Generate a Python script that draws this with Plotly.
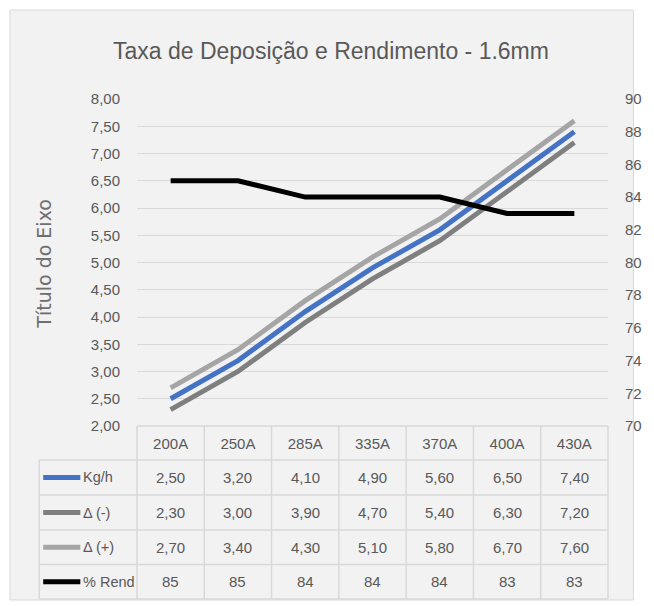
import plotly.graph_objects as go

categories = ["200A", "250A", "285A", "335A", "370A", "400A", "430A"]
kg_h = [2.50, 3.20, 4.10, 4.90, 5.60, 6.50, 7.40]
delta_minus = [2.30, 3.00, 3.90, 4.70, 5.40, 6.30, 7.20]
delta_plus = [2.70, 3.40, 4.30, 5.10, 5.80, 6.70, 7.60]
rend = [85, 85, 84, 84, 84, 83, 83]

series_names = ["Kg/h", "Δ (-)", "Δ (+)", "% Rend"]
series_colors = ["#4472C4", "#7F7F7F", "#A5A5A5", "#000000"]

W_FIG, H_FIG = 654, 606
L, R, T, B = 137, 619, 99, 426
PW, PH = R - L, B - T

def px(x):
    return (x - L) / PW

def py(y):
    return (B - y) / PH

TXT = "#595959"
GRID = "#D9D9D9"
FONT = "Liberation Sans, Arial, sans-serif"

fig = go.Figure()
for vals, i in [(kg_h, 0), (delta_minus, 1), (delta_plus, 2)]:
    fig.add_trace(go.Scatter(x=categories, y=vals, mode="lines", name=series_names[i],
                             line=dict(color=series_colors[i], width=5), showlegend=False))
fig.add_trace(go.Scatter(x=categories, y=rend, mode="lines", name=series_names[3], yaxis="y2",
                         line=dict(color=series_colors[3], width=5), showlegend=False))

shapes = []
# chart area background
shapes.append(dict(type="rect", xref="paper", yref="paper", x0=px(7), x1=px(645), y0=py(10), y1=py(600),
                   fillcolor="#F2F2F2", line=dict(color=GRID, width=1), layer="below"))

# table grid
n = len(categories)
row_y = [460, 495, 530, 564.5, 599]
top_y = 426
lw = 1.5
shapes.append(dict(type="line", xref="paper", yref="paper", x0=0, x1=1, y0=py(top_y), y1=py(top_y),
                   line=dict(color=GRID, width=lw)))
for yy in row_y:
    shapes.append(dict(type="line", xref="paper", yref="paper", x0=px(37), x1=1, y0=py(yy), y1=py(yy),
                       line=dict(color=GRID, width=lw)))
for k in range(n + 1):
    shapes.append(dict(type="line", xref="paper", yref="paper", x0=k / n, x1=k / n, y0=py(top_y), y1=py(row_y[-1]),
                       line=dict(color=GRID, width=lw)))
shapes.append(dict(type="line", xref="paper", yref="paper", x0=px(37), x1=px(37), y0=py(row_y[0]), y1=py(row_y[-1]),
                   line=dict(color=GRID, width=lw)))

annotations = []
table_rows = [kg_h, delta_minus, delta_plus, rend]
for r, vals in enumerate(table_rows):
    yc = (row_y[r] + row_y[r + 1]) / 2
    shapes.append(dict(type="line", xref="paper", yref="paper", x0=px(41), x1=px(79), y0=py(yc), y1=py(yc),
                       line=dict(color=series_colors[r], width=5)))
    annotations.append(dict(xref="paper", yref="paper", x=px(79.5), y=py(yc), text=series_names[r],
                            showarrow=False, xanchor="left", yanchor="middle",
                            font=dict(family=FONT, size=14.5, color=TXT)))
    for k, v in enumerate(vals):
        s = f"{v:d}" if r == 3 else f"{v:.2f}".replace(".", ",")
        annotations.append(dict(xref="paper", yref="paper", x=(k + 0.5) / n, y=py(yc), text=s,
                                showarrow=False, xanchor="center", yanchor="middle",
                                font=dict(family=FONT, size=15, color=TXT)))

# y-axis title
annotations.append(dict(xref="paper", yref="paper", x=px(41), y=py(263.5), text="Título do Eixo",
                        textangle=-90, showarrow=False, xanchor="center", yanchor="middle",
                        font=dict(family="DejaVu Sans", size=19, color="#6E6E6E")))

fig.update_layout(
    width=W_FIG, height=H_FIG,
    margin=dict(l=L, r=W_FIG - R, t=T, b=H_FIG - B, pad=0),
    paper_bgcolor="#FFFFFF", plot_bgcolor="rgba(0,0,0,0)",
    separators=",.",
    title=dict(text="Taxa de Deposição e Rendimento - 1.6mm", x=px(335.5), xref="paper", xanchor="center",
               y=1 - 51 / H_FIG, yref="container", yanchor="middle",
               font=dict(family="Liberation Sans", size=23, color=TXT)),
    xaxis=dict(type="category", range=[-0.5, n - 0.5], showgrid=False, zeroline=False, showline=False,
               ticks="outside", ticklen=4, tickcolor="rgba(0,0,0,0)",
               tickfont=dict(family=FONT, size=15, color=TXT), fixedrange=True),
    yaxis=dict(range=[2, 8], dtick=0.5, tickformat=".2f", showgrid=True, gridcolor=GRID, gridwidth=1,
               zeroline=False, showline=False, ticks="outside", ticklen=13, tickcolor="rgba(0,0,0,0)",
               tickfont=dict(family=FONT, size=15, color=TXT)),
    yaxis2=dict(range=[70, 90], dtick=2, overlaying="y", side="right", showgrid=False, zeroline=False,
                showline=False, ticks="outside", ticklen=13, tickcolor="rgba(0,0,0,0)",
                tickfont=dict(family=FONT, size=15, color=TXT)),
    shapes=shapes, annotations=annotations,
)

fig.write_html("out.html", config={"displayModeBar": False},
               post_script="document.body.style.margin='0';document.body.style.overflow='hidden';")
